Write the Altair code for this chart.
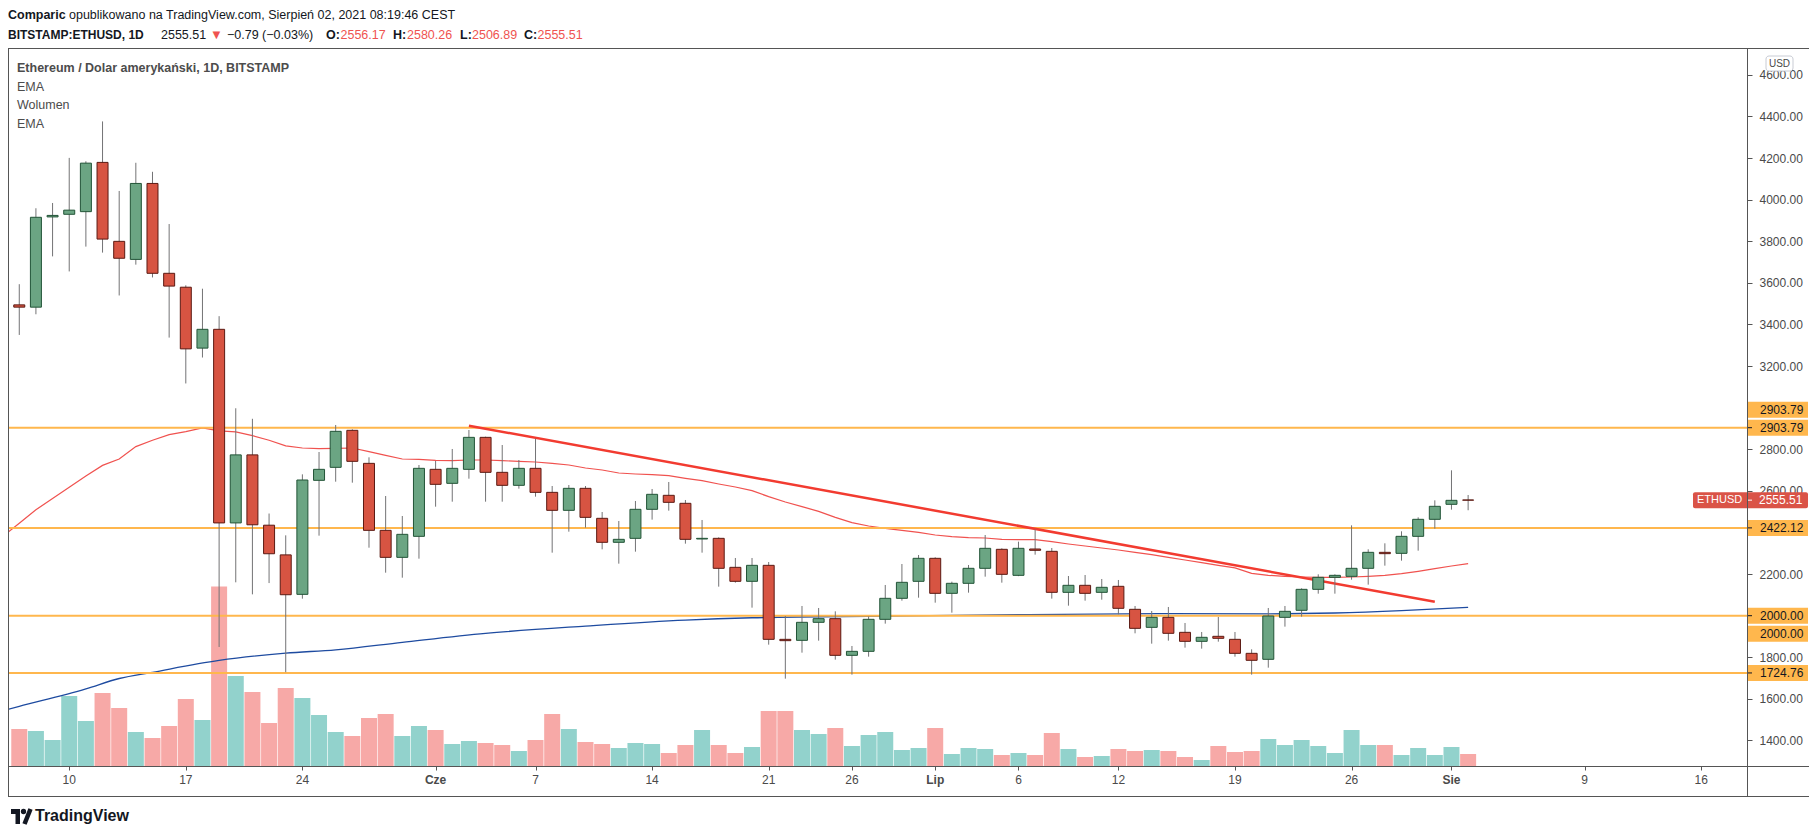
import altair as alt
import pandas as pd

FONT = "Liberation Sans, Arial, sans-serif"
W, H = 1739, 718

# ---------------- data ----------------
dates = pd.date_range("2021-05-07", "2021-08-02", freq="D").strftime("%Y-%m-%d").tolist()

open_ = [3494.3, 3483.4, 3917.2, 3929.8, 3942.5, 4179.3, 3799.7, 3712.9, 4078.1, 3646.1,
         3579.2, 3286.4, 3376.8, 2446.0, 2773.1, 2435.1, 2292.3, 2102.6, 2650.7, 2713.2,
         2891.1, 2732.4, 2410.3, 2280.5, 2381.5, 2703.6, 2636.3, 2703.6, 2857.4, 2689.2,
         2626.7, 2708.4, 2593.0, 2506.5, 2612.3, 2468.1, 2352.7, 2371.9, 2511.4, 2578.7,
         2540.2, 2368.7, 2371.9, 2232.5, 2165.2, 2242.1, 1886.3, 1881.5, 1968.1, 1985.7,
         1809.4, 1828.6, 1982.5, 2083.5, 2165.2, 2275.8, 2107.5, 2155.6, 2227.7, 2319.1,
         2194.0, 2320.6, 2309.4, 2112.3, 2146.0, 2112.3, 2141.2, 2030.6, 1944.0, 1992.1,
         1920.0, 1876.7, 1900.8, 1886.3, 1819.0, 1790.2, 1992.1, 2025.8, 2126.7, 2184.4,
         2189.2, 2227.7, 2304.6, 2299.8, 2381.5, 2463.3, 2535.4, 2556.17]
high = [3593.7, 3958.8, 3984.1, 4201.0, 4184.7, 4376.3, 4041.9, 4177.5, 4134.1, 3882.9,
        3588.3, 3572.0, 3440.0, 2997.2, 2946.6, 2491.2, 2386.3, 2679.6, 2786.9, 2916.8,
        2895.9, 2761.3, 2575.4, 2479.2, 2724.4, 2743.7, 2801.4, 2892.7, 2860.6, 2820.6,
        2748.5, 2851.0, 2623.5, 2628.3, 2623.5, 2498.5, 2455.3, 2551.4, 2609.1, 2642.8,
        2556.2, 2460.1, 2376.7, 2277.4, 2277.4, 2258.1, 1998.5, 2046.6, 2037.0, 2021.0,
        1854.3, 1995.3, 2147.6, 2248.5, 2291.8, 2280.6, 2163.6, 2243.7, 2387.9, 2323.9,
        2355.9, 2415.2, 2325.5, 2190.8, 2195.6, 2176.4, 2171.6, 2046.6, 2022.6, 2041.8,
        1964.9, 1921.6, 1993.7, 1921.6, 1838.3, 2037.0, 2046.6, 2131.5, 2198.9, 2198.9,
        2434.4, 2319.1, 2347.9, 2405.6, 2472.9, 2554.6, 2698.9, 2580.26]
low = [3349.7, 3449.1, 3727.4, 3655.1, 3774.4, 3745.5, 3539.5, 3687.7, 3626.2, 3337.0,
       3116.5, 3241.2, 1849.5, 2160.4, 2102.6, 2156.8, 1728.5, 2081.8, 2384.7, 2644.3,
       2639.5, 2327.0, 2206.8, 2182.7, 2274.1, 2524.1, 2548.1, 2658.7, 2548.1, 2548.1,
       2610.7, 2572.2, 2302.9, 2403.9, 2423.2, 2319.0, 2250.1, 2307.8, 2461.7, 2504.9,
       2346.3, 2303.0, 2139.6, 2158.8, 2038.6, 1860.7, 1697.2, 1822.2, 1879.9, 1788.6,
       1716.5, 1803.0, 1961.7, 2072.2, 2086.6, 2062.6, 2014.5, 2110.7, 2187.6, 2158.8,
       2190.0, 2293.4, 2081.9, 2048.2, 2072.2, 2077.0, 2006.5, 1915.2, 1865.5, 1879.9,
       1846.3, 1841.5, 1875.1, 1803.0, 1716.5, 1750.1, 1947.3, 1995.3, 2105.9, 2105.9,
       2173.2, 2149.2, 2240.5, 2264.6, 2312.6, 2418.4, 2509.7, 2506.89]
close = [3483.4, 3915.4, 3924.4, 3949.7, 4175.7, 3810.6, 3718.4, 4078.1, 3646.1, 3584.6,
         3282.8, 3376.8, 2446.0, 2773.1, 2437.0, 2297.8, 2100.8, 2652.3, 2703.6, 2886.3,
         2742.1, 2410.3, 2280.5, 2391.1, 2708.4, 2631.5, 2708.4, 2857.4, 2689.2, 2626.7,
         2708.4, 2593.0, 2506.5, 2612.3, 2472.8, 2352.7, 2367.1, 2511.4, 2583.5, 2545.0,
         2367.1, 2371.9, 2227.7, 2165.2, 2242.1, 1886.3, 1879.9, 1968.1, 1985.7, 1809.4,
         1828.6, 1982.5, 2083.5, 2160.4, 2275.8, 2107.5, 2155.6, 2227.7, 2323.9, 2198.8,
         2323.9, 2314.2, 2112.3, 2146.0, 2107.5, 2136.4, 2035.4, 1939.2, 1992.1, 1915.2,
         1876.7, 1896.0, 1891.2, 1819.0, 1785.4, 1998.5, 2020.9, 2126.7, 2184.4, 2194.0,
         2227.7, 2304.6, 2298.2, 2381.5, 2463.3, 2525.8, 2554.6, 2555.51]
# volume, arbitrary units (thousands)
volume = [37, 35, 26, 70, 45, 73, 58, 34, 28, 40, 67, 46, 179.5, 90, 74, 43, 78, 68, 51, 34,
          30, 48, 52, 30, 40, 36, 22, 25, 23, 21,
          15, 26, 52, 37, 24, 22, 18, 23, 22, 13, 21, 36, 21, 13, 19, 55, 55, 36, 32, 38,
          20, 31, 34, 16, 18, 38, 12, 18, 17,
          11, 13, 11, 33, 17, 9, 10, 17, 15, 16, 15, 9, 6, 20, 14, 15, 27, 21, 26, 20,
          13, 36, 21, 21, 11, 18, 11, 19, 12]

ema_fast_dates = ["2021-05-06"] + dates
ema_fast = [2380.0, 2444.2, 2509.2, 2563.5, 2617.7, 2671.9, 2722.5, 2753.2, 2812.9, 2843.6,
            2870.7, 2885.2, 2903.2, 2888.8, 2883.4, 2865.3, 2843.6, 2816.5, 2806.2, 2803.0,
            2804.6, 2806.2, 2788.5, 2770.9, 2753.3, 2751.7, 2746.9, 2745.3, 2748.5, 2748.5,
            2745.3, 2742.1, 2738.9, 2732.4, 2724.4, 2710.0, 2700.5, 2686.0, 2681.2, 2678.0,
            2673.2, 2660.4, 2649.2, 2633.2, 2618.7, 2601.1, 2572.3, 2546.6, 2524.2, 2501.7,
            2472.9, 2447.3, 2431.2, 2420.0, 2410.4, 2400.8, 2388.0, 2379.9, 2375.1, 2373.5,
            2367.1, 2365.5, 2365.5, 2355.9, 2344.7, 2335.1, 2325.4, 2315.8, 2304.6, 2293.4,
            2280.6, 2267.8, 2254.9, 2242.1, 2229.7, 2203.7, 2194.0, 2189.2, 2186.0, 2184.4,
            2184.4, 2186.0, 2189.2, 2194.0, 2202.1, 2213.3, 2226.1, 2238.9, 2250.1]

ema_slow_dates = ["2021-05-06", "2021-05-07", "2021-05-11", "2021-05-13", "2021-05-15",
                  "2021-05-19", "2021-05-23", "2021-05-26", "2021-05-30", "2021-06-04",
                  "2021-06-10", "2021-06-16", "2021-06-20", "2021-06-28", "2021-07-06",
                  "2021-07-15", "2021-07-21", "2021-07-25", "2021-07-29", "2021-08-02"]
ema_slow = [1543, 1564, 1648, 1698, 1728, 1785, 1820, 1836, 1872, 1915,
            1950, 1979, 1990, 1998, 2005, 2010, 2009, 2013, 2024, 2040]

trend_dates = ["2021-06-03", "2021-07-31"]
trend_prices = [2913.5, 2067.3]

levels = [2903.79, 2422.12, 2000.00, 1724.76]
# 2400.00 sits entirely under the 2422.12 tag in the reference, so it is not listed
price_ticks = [1400, 1600, 1800, 2000, 2200, 2600, 2800, 3000, 3200,
               3400, 3600, 3800, 4000, 4200, 4400, 4600]
tick_dates = ["2021-05-10", "2021-05-17", "2021-05-24", "2021-06-01", "2021-06-07",
              "2021-06-14", "2021-06-21", "2021-06-26", "2021-07-01", "2021-07-06",
              "2021-07-12", "2021-07-19", "2021-07-26", "2021-08-01", "2021-08-09",
              "2021-08-16"]
tick_labels = ["10", "17", "24", "Cze", "7", "14", "21", "26", "Lip", "6",
               "12", "19", "26", "Sie", "9", "16"]

# ---------------- tables ----------------
dirs = ["up" if c >= o else "down" for o, c in zip(open_, close)]
candles = pd.DataFrame({"date": dates, "open": open_, "high": high, "low": low,
                        "close": close, "volume": volume, "dir": dirs})
ema_f_df = pd.DataFrame({"date": ema_fast_dates, "ema": ema_fast})
ema_s_df = pd.DataFrame({"date": ema_slow_dates, "ema": ema_slow})
trend_df = pd.DataFrame({"date": trend_dates, "price": trend_prices})
levels_df = pd.DataFrame({"price": levels})
dup_up_df = pd.DataFrame({"price": [levels[0]]})
dup_dn_df = pd.DataFrame({"price": [levels[2]]})
last_df = pd.DataFrame({"price": [close[-1]], "sym": ["ETHUSD"]})
ticks_df = pd.DataFrame({"date": tick_dates, "label": tick_labels})
DUMMY = pd.DataFrame({"k": [0]})

# ---------------- styles ----------------
AXIS_C = "#555555"
LABEL_C = "#4a4a4a"
UP_F, UP_S = "#6ba583", "#225437"
DN_F, DN_S = "#d75442", "#5b1a13"
VOL_UP, VOL_DN = "#92d2cc", "#f7a9a7"
ORANGE = "#ffb74d"
RED_LBL = "#da5347"
TXT = "#131722"
RED_TXT = "#ef5350"

x_scale = alt.Scale(type="utc", domain=[
    alt.DateTime(year=2021, month=5, date=6, hours=14, minutes=58, utc=True),
    alt.DateTime(year=2021, month=8, date=18, hours=10, minutes=41, utc=True)])
x_axis = alt.Axis(values=[alt.DateTime(year=int(d[:4]), month=int(d[5:7]), date=int(d[8:]), utc=True)
                          for d in tick_dates],
                  labels=False, tickSize=4, tickColor=AXIS_C, domain=False, grid=False, title=None)
y_scale = alt.Scale(domain=[1277.35, 4729.27], nice=False, zero=False)
y_axis = alt.Axis(orient="right", values=price_ticks, format=".2f", grid=False, domain=False,
                  tickSize=5, tickColor=AXIS_C, labelPadding=7, labelFontSize=12,
                  labelFont=FONT, labelColor=LABEL_C, labelOverlap=False, labelFlush=False,
                  title=None)


def X(field="date"):
    return alt.X(f"{field}:T", scale=x_scale, axis=x_axis, title=None)


def Y(field):
    return alt.Y(f"{field}:Q", scale=y_scale, axis=y_axis, title=None)


def txt(s, x, y, size=12.5, weight="normal", color=TXT, align="left"):
    return alt.Chart(DUMMY).mark_text(text=s, x=x, y=y, fontSize=size, fontWeight=weight,
                                      color=color, align=align, baseline="middle", font=FONT)


def rule(x, x2, y, y2, color=AXIS_C, width=1):
    return alt.Chart(DUMMY).mark_rule(color=color, strokeWidth=width).encode(
        x=alt.value(x), x2=alt.value(x2), y=alt.value(y), y2=alt.value(y2))


# ---------------- layers ----------------
vol = alt.Chart(candles).mark_bar(size=16).encode(
    x=X(),
    y=alt.Y("volume:Q", scale=alt.Scale(domain=[0, 718], nice=False), axis=None),
    color=alt.Color("dir:N", scale=alt.Scale(domain=["up", "down"], range=[VOL_UP, VOL_DN]), legend=None))

ema_f = alt.Chart(ema_f_df).mark_line(color="#f0524f", strokeWidth=1.2, clip=True).encode(x=X(), y=Y("ema"))
ema_s = alt.Chart(ema_s_df).mark_line(color="#1e4ba0", strokeWidth=1.3, clip=True,
                                      interpolate="monotone").encode(x=X(), y=Y("ema"))
lvl = alt.Chart(levels_df).mark_rule(color=ORANGE, strokeWidth=2).encode(
    y=Y("price"), x=alt.value(0), x2=alt.value(W))
trend = alt.Chart(trend_df).mark_line(color="#f23b30", strokeWidth=2.5).encode(x=X(), y=Y("price"))
wick = alt.Chart(candles).mark_rule(color="#737375", strokeWidth=1).encode(x=X(), y=Y("low"), y2="high")
body = alt.Chart(candles).mark_bar(size=11, strokeWidth=1).encode(
    x=X(), y=Y("open"), y2="close",
    fill=alt.Fill("dir:N", scale=alt.Scale(domain=["up", "down"], range=[UP_F, DN_F]), legend=None),
    stroke=alt.Stroke("dir:N", scale=alt.Scale(domain=["up", "down"], range=[UP_S, DN_S]), legend=None))

# price-axis labels for levels
lab_box = alt.Chart(levels_df).mark_rect(color=ORANGE, yOffset=-8, y2Offset=8).encode(
    x=alt.value(W), x2=alt.value(W + 61), y=Y("price"), y2="price")
lab_tick = alt.Chart(levels_df).mark_rule(color=TXT, strokeWidth=1).encode(
    x=alt.value(W), x2=alt.value(W + 5), y=Y("price"))
lab_txt = alt.Chart(levels_df).mark_text(align="left", baseline="middle", fontSize=12, font=FONT,
                                         color=TXT).encode(
    x=alt.value(W + 13), y=Y("price"), text=alt.Text("price:Q", format=".2f"))
dup_up_box = alt.Chart(dup_up_df).mark_rect(color=ORANGE, yOffset=-26, y2Offset=-10).encode(
    x=alt.value(W), x2=alt.value(W + 61), y=Y("price"), y2="price")
dup_up_txt = alt.Chart(dup_up_df).mark_text(align="left", baseline="middle", fontSize=12, font=FONT,
                                            color=TXT, dy=-18).encode(
    x=alt.value(W + 13), y=Y("price"), text=alt.Text("price:Q", format=".2f"))
dup_dn_box = alt.Chart(dup_dn_df).mark_rect(color=ORANGE, yOffset=10, y2Offset=26).encode(
    x=alt.value(W), x2=alt.value(W + 61), y=Y("price"), y2="price")
dup_dn_txt = alt.Chart(dup_dn_df).mark_text(align="left", baseline="middle", fontSize=12, font=FONT,
                                            color=TXT, dy=18).encode(
    x=alt.value(W + 13), y=Y("price"), text=alt.Text("price:Q", format=".2f"))

cur_box = alt.Chart(last_df).mark_rect(color=RED_LBL, yOffset=-8, y2Offset=8, cornerRadius=2).encode(
    x=alt.value(W - 54), x2=alt.value(W + 61), y=Y("price"), y2="price")
cur_tick = alt.Chart(last_df).mark_rule(color="white", strokeWidth=1).encode(
    x=alt.value(W), x2=alt.value(W + 5), y=Y("price"))
cur_sym = alt.Chart(last_df).mark_text(align="left", baseline="middle", fontSize=11, font=FONT,
                                       color="white").encode(
    x=alt.value(W - 50), y=Y("price"), text="sym:N")
cur_px = alt.Chart(last_df).mark_text(align="left", baseline="middle", fontSize=12, font=FONT,
                                      color="white").encode(
    x=alt.value(W + 12), y=Y("price"), text=alt.Text("price:Q", format=".2f"))

# time-axis labels
xl_num = alt.Chart(ticks_df).transform_filter("!isNaN(toNumber(datum.label))").mark_text(
    y=H + 14, baseline="middle", align="center", fontSize=12, font=FONT, color=LABEL_C).encode(
    x=X(), text="label:N")
xl_mon = alt.Chart(ticks_df).transform_filter("isNaN(toNumber(datum.label))").mark_text(
    y=H + 14, baseline="middle", align="center", fontSize=12, font=FONT, color=LABEL_C,
    fontWeight="bold").encode(x=X(), text="label:N")

# frame
frame = [
    rule(0, W + 63, 0.5, 0.5),
    rule(0, W + 63, H + 0.5, H + 0.5),
    rule(0, W + 63, H + 30.5, H + 30.5),
    rule(0.5, 0.5, 0, H + 30),
    rule(W + 62.5, W + 62.5, 0, H + 30),
    rule(W + 0.5, W + 0.5, 0, H + 30),
]

usd_box = alt.Chart(DUMMY).mark_rect(fill="white", stroke="#c9ccd4", strokeWidth=1, cornerRadius=3).encode(
    x=alt.value(W + 19), x2=alt.value(W + 46), y=alt.value(8), y2=alt.value(23))
usd_txt = txt("USD", W + 32.5, 15.5, size=10, color=LABEL_C, align="center")

# header
header = [
    txt("Comparic", 0, -33, weight="bold"),
    txt("opublikowano na TradingView.com, Sierpień 02, 2021 08:19:46 CEST", 61, -33),
    txt("BITSTAMP:ETHUSD, 1D", 0, -13.5, size=12, weight="bold"),
    txt("2555.51", 153, -13.5),
    txt("▼", 202, -13.5, size=13, color=RED_TXT),
    txt("−0.79 (−0.03%)", 219, -13.5),
    txt("O:", 318, -13.5, weight="bold"),
    txt("2556.17", 332.5, -13.5, color=RED_TXT),
    txt("H:", 385, -13.5, weight="bold"),
    txt("2580.26", 399, -13.5, color=RED_TXT),
    txt("L:", 452, -13.5, weight="bold"),
    txt("2506.89", 464, -13.5, color=RED_TXT),
    txt("C:", 516, -13.5, weight="bold"),
    txt("2555.51", 529.5, -13.5, color=RED_TXT),
]
legend = [
    txt("Ethereum / Dolar amerykański, 1D, BITSTAMP", 9, 20, weight="bold", color="#4c4c4c"),
    txt("EMA", 9, 38.5, color="#4c4c4c"),
    txt("Wolumen", 9, 57, color="#4c4c4c"),
    txt("EMA", 9, 75.5, color="#4c4c4c"),
]

# TradingView logo
logo = [
    alt.Chart(DUMMY).mark_rect(color=TXT).encode(x=alt.value(3), x2=alt.value(12), y=alt.value(761), y2=alt.value(766)),
    alt.Chart(DUMMY).mark_rect(color=TXT).encode(x=alt.value(7.5), x2=alt.value(12), y=alt.value(761), y2=alt.value(776)),
    alt.Chart(DUMMY).mark_circle(color=TXT, opacity=1, size=28).encode(x=alt.value(15.5), y=alt.value(763.5)),
    alt.Chart(DUMMY).mark_rule(color=TXT, strokeWidth=4.5).encode(x=alt.value(16.5), x2=alt.value(22.5), y=alt.value(776), y2=alt.value(761)),
    txt("TradingView", 27, 768, size=16, weight="bold"),
]

price = alt.layer(
    ema_f, ema_s, lvl, trend, wick, body,
    lab_box, lab_tick, lab_txt, dup_up_box, dup_up_txt, dup_dn_box, dup_dn_txt,
    cur_box, cur_tick, cur_sym, cur_px,
    xl_num, xl_mon, *frame, usd_box, usd_txt, *header, *legend, *logo,
)

chart = alt.layer(vol, price).resolve_scale(y="independent").properties(
    width=W, height=H,
    padding={"left": 0, "top": 40, "right": 62, "bottom": 60},
    autosize=alt.AutoSizeParams(type="none"),
    background="white",
).configure_view(stroke=None)

chart.save("out.html", embed_options={"renderer": "svg", "actions": False})
